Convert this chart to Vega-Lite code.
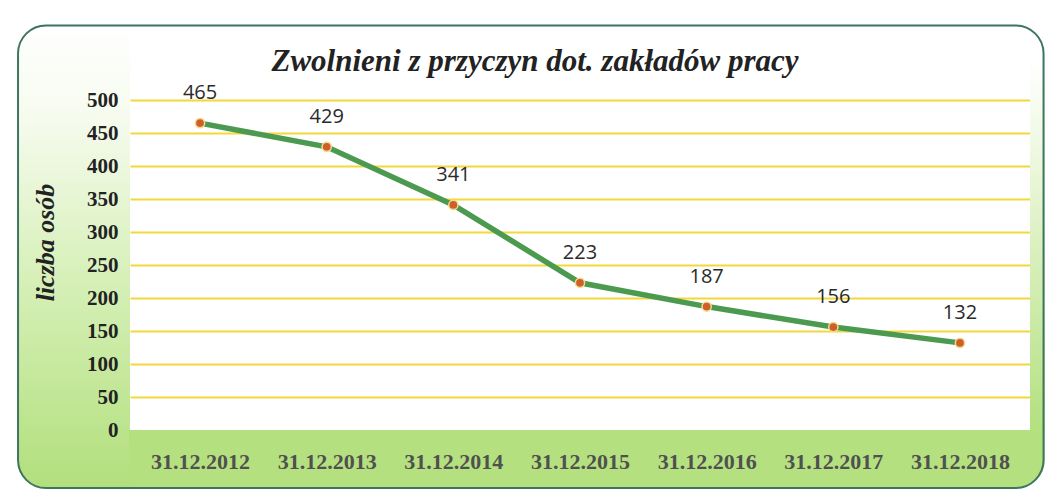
{
  "$schema": "https://vega.github.io/schema/vega-lite/v6.json",
  "autosize": {"type": "none"},
  "width": 900,
  "height": 330,
  "padding": {"left": 130, "top": 100, "right": 15, "bottom": 65},
  "background": "#ffffff",
  "config": {
    "view": {"stroke": null, "fill": "#ffffff"},
    "axis": {"domain": false, "ticks": false}
  },
  "title": {
    "text": "Zwolnieni z przyczyn dot. zakładów pracy",
    "font": "Liberation Serif",
    "fontSize": 31,
    "fontStyle": "italic",
    "fontWeight": "bold",
    "color": "#222222",
    "anchor": "middle",
    "dx": -45,
    "dy": 78,
    "offset": 24
  },
  "resolve": {"axis": {"y": "independent", "x": "independent"}},
  "data": {
    "values": [
      {"date": "31.12.2012", "year": 2012, "value": 465},
      {"date": "31.12.2013", "year": 2013, "value": 429},
      {"date": "31.12.2014", "year": 2014, "value": 341},
      {"date": "31.12.2015", "year": 2015, "value": 223},
      {"date": "31.12.2016", "year": 2016, "value": 187},
      {"date": "31.12.2017", "year": 2017, "value": 156},
      {"date": "31.12.2018", "year": 2018, "value": 132}
    ]
  },
  "layer": [
    {
      "data": {"values": [{}]},
      "mark": {
        "type": "rect", "clip": false, "cornerRadiusTopLeft": 28, "cornerRadiusBottomLeft": 28,
        "fill": {"gradient": "linear", "x1": 0, "y1": 0, "x2": 0, "y2": 1,
          "stops": [{"offset": 0, "color": "#ffffff"}, {"offset": 0.2, "color": "#f6fbee"}, {"offset": 0.55, "color": "#d6f0b8"}, {"offset": 1, "color": "#b2df7c"}]}
      },
      "encoding": {
        "x": {"datum": 2010.563, "type": "quantitative", "axis": null},
        "x2": {"datum": 2011.447},
        "y": {"datum": -88, "type": "quantitative", "axis": null},
        "y2": {"datum": 613}
      }
    },
    {
      "data": {"values": [{}]},
      "mark": {"type": "rect", "clip": false, "fill": "#b4e07f", "cornerRadiusBottomRight": 28},
      "encoding": {
        "x": {"datum": 2011.44, "type": "quantitative", "axis": null},
        "x2": {"datum": 2018.67},
        "y": {"datum": -88, "type": "quantitative", "axis": null},
        "y2": {"datum": 0}
      }
    },
    {
      "data": {"values": [{}]},
      "mark": {
        "type": "rect", "clip": false,
        "fill": {"gradient": "linear", "x1": 0, "y1": 0, "x2": 0, "y2": 1,
          "stops": [{"offset": 0, "color": "#ffffff"}, {"offset": 0.3, "color": "#eaf7da"}, {"offset": 1, "color": "#b4e07f"}]}
      },
      "encoding": {
        "x": {"datum": 2018.553, "type": "quantitative", "axis": null},
        "x2": {"datum": 2018.67},
        "y": {"datum": 0, "type": "quantitative", "axis": null},
        "y2": {"datum": 560}
      }
    },
    {
      "data": {"values": [{}]},
      "mark": {"type": "rect", "clip": false, "fill": null, "fillOpacity": 0, "stroke": "#3d7560", "strokeWidth": 2, "cornerRadius": 28},
      "encoding": {
        "x": {"datum": 2010.563, "type": "quantitative", "axis": null},
        "x2": {"datum": 2018.66},
        "y": {
          "datum": -88, "type": "quantitative",
          "axis": {
            "orient": "left", "zindex": 0, "title": null, "labels": false,
            "values": [50, 100, 150, 200, 250, 300, 350, 400, 450, 500],
            "grid": true, "gridColor": "#f2d83a", "gridWidth": 2
          }
        },
        "y2": {"datum": 613}
      }
    },
    {
      "mark": {"type": "line", "color": "#4c9a50", "strokeWidth": 5.5},
      "encoding": {
        "x": {
          "field": "year", "type": "quantitative",
          "scale": {"domain": [2011.447, 2018.553], "nice": false, "zero": false},
          "axis": {
            "orient": "bottom", "zindex": 1,
            "title": null, "values": [2012, 2013, 2014, 2015, 2016, 2017, 2018],
            "labelExpr": "'31.12.' + datum.value", "grid": false,
            "labelFont": "Liberation Serif", "labelFontSize": 22, "labelFontWeight": "bold",
            "labelColor": "#505050", "labelPadding": 21
          }
        },
        "y": {
          "field": "value", "type": "quantitative",
          "scale": {"domain": [0, 500], "nice": false},
          "axis": {
            "orient": "left", "zindex": 1,
            "title": "liczba osób", "titleFont": "Liberation Serif", "titleFontSize": 26,
            "titleFontStyle": "italic", "titleFontWeight": "bold", "titleColor": "#222222",
            "titleX": -85, "titleY": 142, "titleAngle": -90, "titleAlign": "center", "titleBaseline": "middle",
            "values": [0, 50, 100, 150, 200, 250, 300, 350, 400, 450, 500],
            "grid": false,
            "labelFont": "Liberation Serif", "labelFontSize": 21, "labelFontWeight": "bold",
            "labelColor": "#222222", "labelPadding": 12
          }
        }
      }
    },
    {
      "mark": {"type": "point", "filled": true, "fill": "#cf5f2a", "stroke": "#f3d98a", "strokeWidth": 1.5, "size": 85, "opacity": 1},
      "encoding": {
        "x": {"field": "year", "type": "quantitative", "axis": null},
        "y": {"field": "value", "type": "quantitative", "axis": null}
      }
    },
    {
      "mark": {"type": "text", "dy": -30, "font": "Open Sans", "fontSize": 20, "color": "#2a2a2a"},
      "encoding": {
        "x": {"field": "year", "type": "quantitative", "axis": null},
        "y": {"field": "value", "type": "quantitative", "axis": null},
        "text": {"field": "value", "type": "quantitative"}
      }
    }
  ]
}
